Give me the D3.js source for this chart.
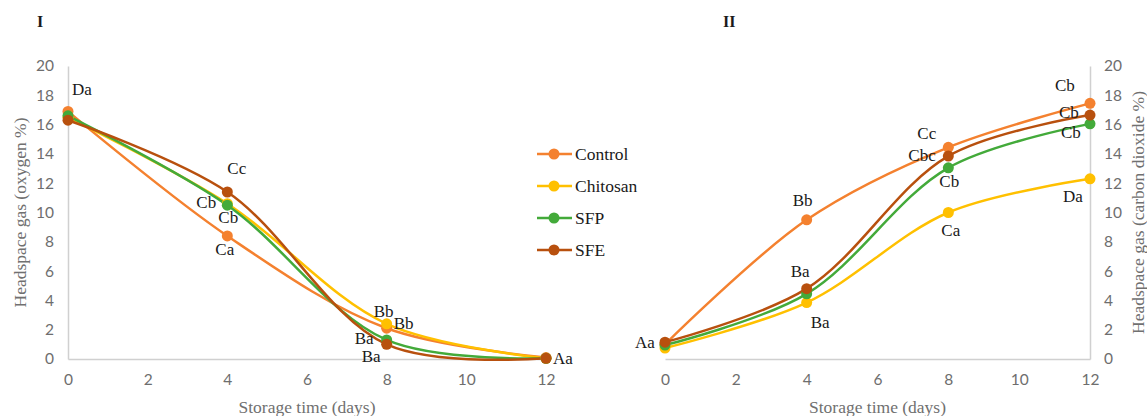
<!DOCTYPE html>
<html>
<head>
<meta charset="utf-8">
<script src="https://cdn.jsdelivr.net/npm/d3@7"></script>
<style>
	body { margin: 0; background: #fff; }
	svg { display: block; }
</style>
</head>
<body>
<div id="chart"></div>
<script>
const DAYS = [0, 4, 8, 12];
const SERIES = ["Control", "Chitosan", "SFP", "SFE"];
const X_TICKS = [0, 2, 4, 6, 8, 10, 12];
const Y_TICKS = [0, 2, 4, 6, 8, 10, 12, 14, 16, 18, 20];

// oxygen % (panel I)
const O2_CONTROL = [16.9, 8.4, 2.1, 0.1];
const O2_CHITOSAN = [16.5, 10.6, 2.4, 0.05];
const O2_SFP = [16.6, 10.5, 1.3, 0.05];
const O2_SFE = [16.3, 11.4, 1.0, 0.05];

// carbon dioxide % (panel II)
const CO2_CONTROL = [1.0, 9.5, 14.45, 17.45];
const CO2_CHITOSAN = [0.75, 3.85, 10.0, 12.3];
const CO2_SFP = [0.95, 4.45, 13.05, 16.05];
const CO2_SFE = [1.15, 4.8, 13.85, 16.65];

// letter labels: [series, day index, text, dx, dy]
const O2_LABELS = [
	["Control", 0, "Da", 4, -16],
	["SFE", 1, "Cc", 0, -18],
	["Chitosan", 1, "Cb", -31, 4],
	["SFP", 1, "Cb", -9, 18],
	["Control", 1, "Ca", -12, 19],
	["Chitosan", 2, "Bb", -13, -7],
	["Control", 2, "Bb", 7, 1],
	["SFP", 2, "Ba", -32, 4],
	["SFE", 2, "Ba", -25, 18],
	["Chitosan", 3, "Aa", 7, 6]
];
const CO2_LABELS = [
	["SFE", 0, "Aa", -30, 6],
	["Control", 1, "Bb", -14, -14],
	["SFE", 1, "Ba", -16, -12],
	["Chitosan", 1, "Ba", 4, 25],
	["Control", 2, "Cc", -31, -8],
	["SFE", 2, "Cbc", -40, 5],
	["SFP", 2, "Cb", -9, 19],
	["Chitosan", 2, "Ca", -7, 23],
	["Control", 3, "Cb", -35, -12],
	["SFE", 3, "Cb", -31, 3],
	["SFP", 3, "Cb", -29, 14],
	["Chitosan", 3, "Da", -27, 23]
];

const COLORS = { Control: "#F4812F", Chitosan: "#FFC000", SFP: "#43AA3A", SFE: "#B8500E" };
const SERIF = "'Liberation Serif', 'DejaVu Serif', serif";
const W = 1147, H = 416;

const svg = d3.select("#chart").append("svg").attr("width", W).attr("height", H);

function drawPanel(cfg) {
	const x = d3.scaleLinear().domain([0, 12]).range(cfg.xRange);
	const y = d3.scaleLinear().domain([0, 20]).range([359, 66]);
	const g = svg.append("g");

	// axes
	const xAxis = d3.axisBottom(x).tickValues(X_TICKS).tickSize(0).tickPadding(15);
	const xg = g.append("g").attr("transform", `translate(0, ${y(0)})`).call(xAxis);
	xg.select(".domain").attr("stroke", "#d0d0d0").attr("stroke-width", 1.5);

	const yAxis = (cfg.yAxisSide === "left" ? d3.axisLeft(y) : d3.axisRight(y))
		.tickValues(Y_TICKS).tickSize(0).tickPadding(14);
	const yg = g.append("g").attr("transform", `translate(${cfg.yAxisX}, 0)`).call(yAxis);
	yg.select(".domain").attr("stroke", "#d0d0d0").attr("stroke-width", 1.5);

	g.selectAll(".tick text")
		.attr("fill", "#6e6e6e")
		.attr("font-family", "Lato, 'Open Sans', sans-serif")
		.attr("font-size", "15.5px");

	const line = d3.line()
		.x((d, i) => x(DAYS[i]))
		.y((d) => y(d))
		.curve(d3.curveCatmullRom.alpha(0.5));

	SERIES.forEach((s) => {
		g.append("path")
			.datum(cfg.data[s])
			.attr("d", line)
			.attr("fill", "none")
			.attr("stroke", COLORS[s])
			.attr("stroke-width", 2.5);
	});
	SERIES.forEach((s) => {
		g.selectAll(null)
			.data(cfg.data[s])
			.enter()
			.append("circle")
			.attr("cx", (d, i) => x(DAYS[i]))
			.attr("cy", (d) => y(d))
			.attr("r", 5.5)
			.attr("fill", COLORS[s]);
	});

	g.selectAll(".pt-label")
		.data(cfg.labels)
		.enter()
		.append("text")
		.attr("class", "pt-label")
		.attr("x", (d) => x(DAYS[d[1]]) + d[3])
		.attr("y", (d) => y(cfg.data[d[0]][d[1]]) + d[4])
		.attr("font-family", SERIF)
		.attr("font-size", "17px")
		.attr("fill", "#1a1a1a")
		.text((d) => d[2]);

	g.append("text")
		.attr("x", (cfg.xRange[0] + cfg.xRange[1]) / 2)
		.attr("y", 413)
		.attr("text-anchor", "middle")
		.attr("font-family", SERIF)
		.attr("font-size", "17.5px")
		.attr("fill", "#707070")
		.text("Storage time (days)");

	g.append("text")
		.attr("transform", `translate(${cfg.yTitleX}, ${(y(0) + y(20)) / 2}) rotate(-90)`)
		.attr("text-anchor", "middle")
		.attr("font-family", SERIF)
		.attr("font-size", "17.5px")
		.attr("fill", "#707070")
		.text(cfg.yTitle);

	g.append("text")
		.attr("x", cfg.titleX)
		.attr("y", 27)
		.attr("font-family", SERIF)
		.attr("font-weight", "bold")
		.attr("font-size", "16px")
		.attr("fill", "#1a1a1a")
		.text(cfg.title);
}

drawPanel({
	title: "I", titleX: 37,
	xRange: [68, 546], yAxisSide: "left", yAxisX: 68,
	yTitle: "Headspace gas (oxygen %)", yTitleX: 26,
	data: { Control: O2_CONTROL, Chitosan: O2_CHITOSAN, SFP: O2_SFP, SFE: O2_SFE },
	labels: O2_LABELS
});

drawPanel({
	title: "II", titleX: 723,
	xRange: [665, 1090], yAxisSide: "right", yAxisX: 1090,
	yTitle: "Headspace gas (carbon dioxide %)", yTitleX: 1144,
	data: { Control: CO2_CONTROL, Chitosan: CO2_CHITOSAN, SFP: CO2_SFP, SFE: CO2_SFE },
	labels: CO2_LABELS
});

// legend
const legend = svg.append("g").attr("transform", "translate(537, 154)");
const rows = legend.selectAll("g").data(SERIES).enter().append("g")
	.attr("transform", (d, i) => `translate(0, ${i * 32})`);
rows.append("line").attr("x1", 0).attr("x2", 35).attr("y1", 0).attr("y2", 0)
	.attr("stroke", (d) => COLORS[d]).attr("stroke-width", 2.5);
rows.append("circle").attr("cx", 17).attr("cy", 0).attr("r", 5.5).attr("fill", (d) => COLORS[d]);
rows.append("text").attr("x", 38).attr("y", 6)
	.attr("font-family", SERIF)
	.attr("font-size", "17.5px")
	.attr("fill", "#1a1a1a")
	.text((d) => d);
</script>
</body>
</html>
